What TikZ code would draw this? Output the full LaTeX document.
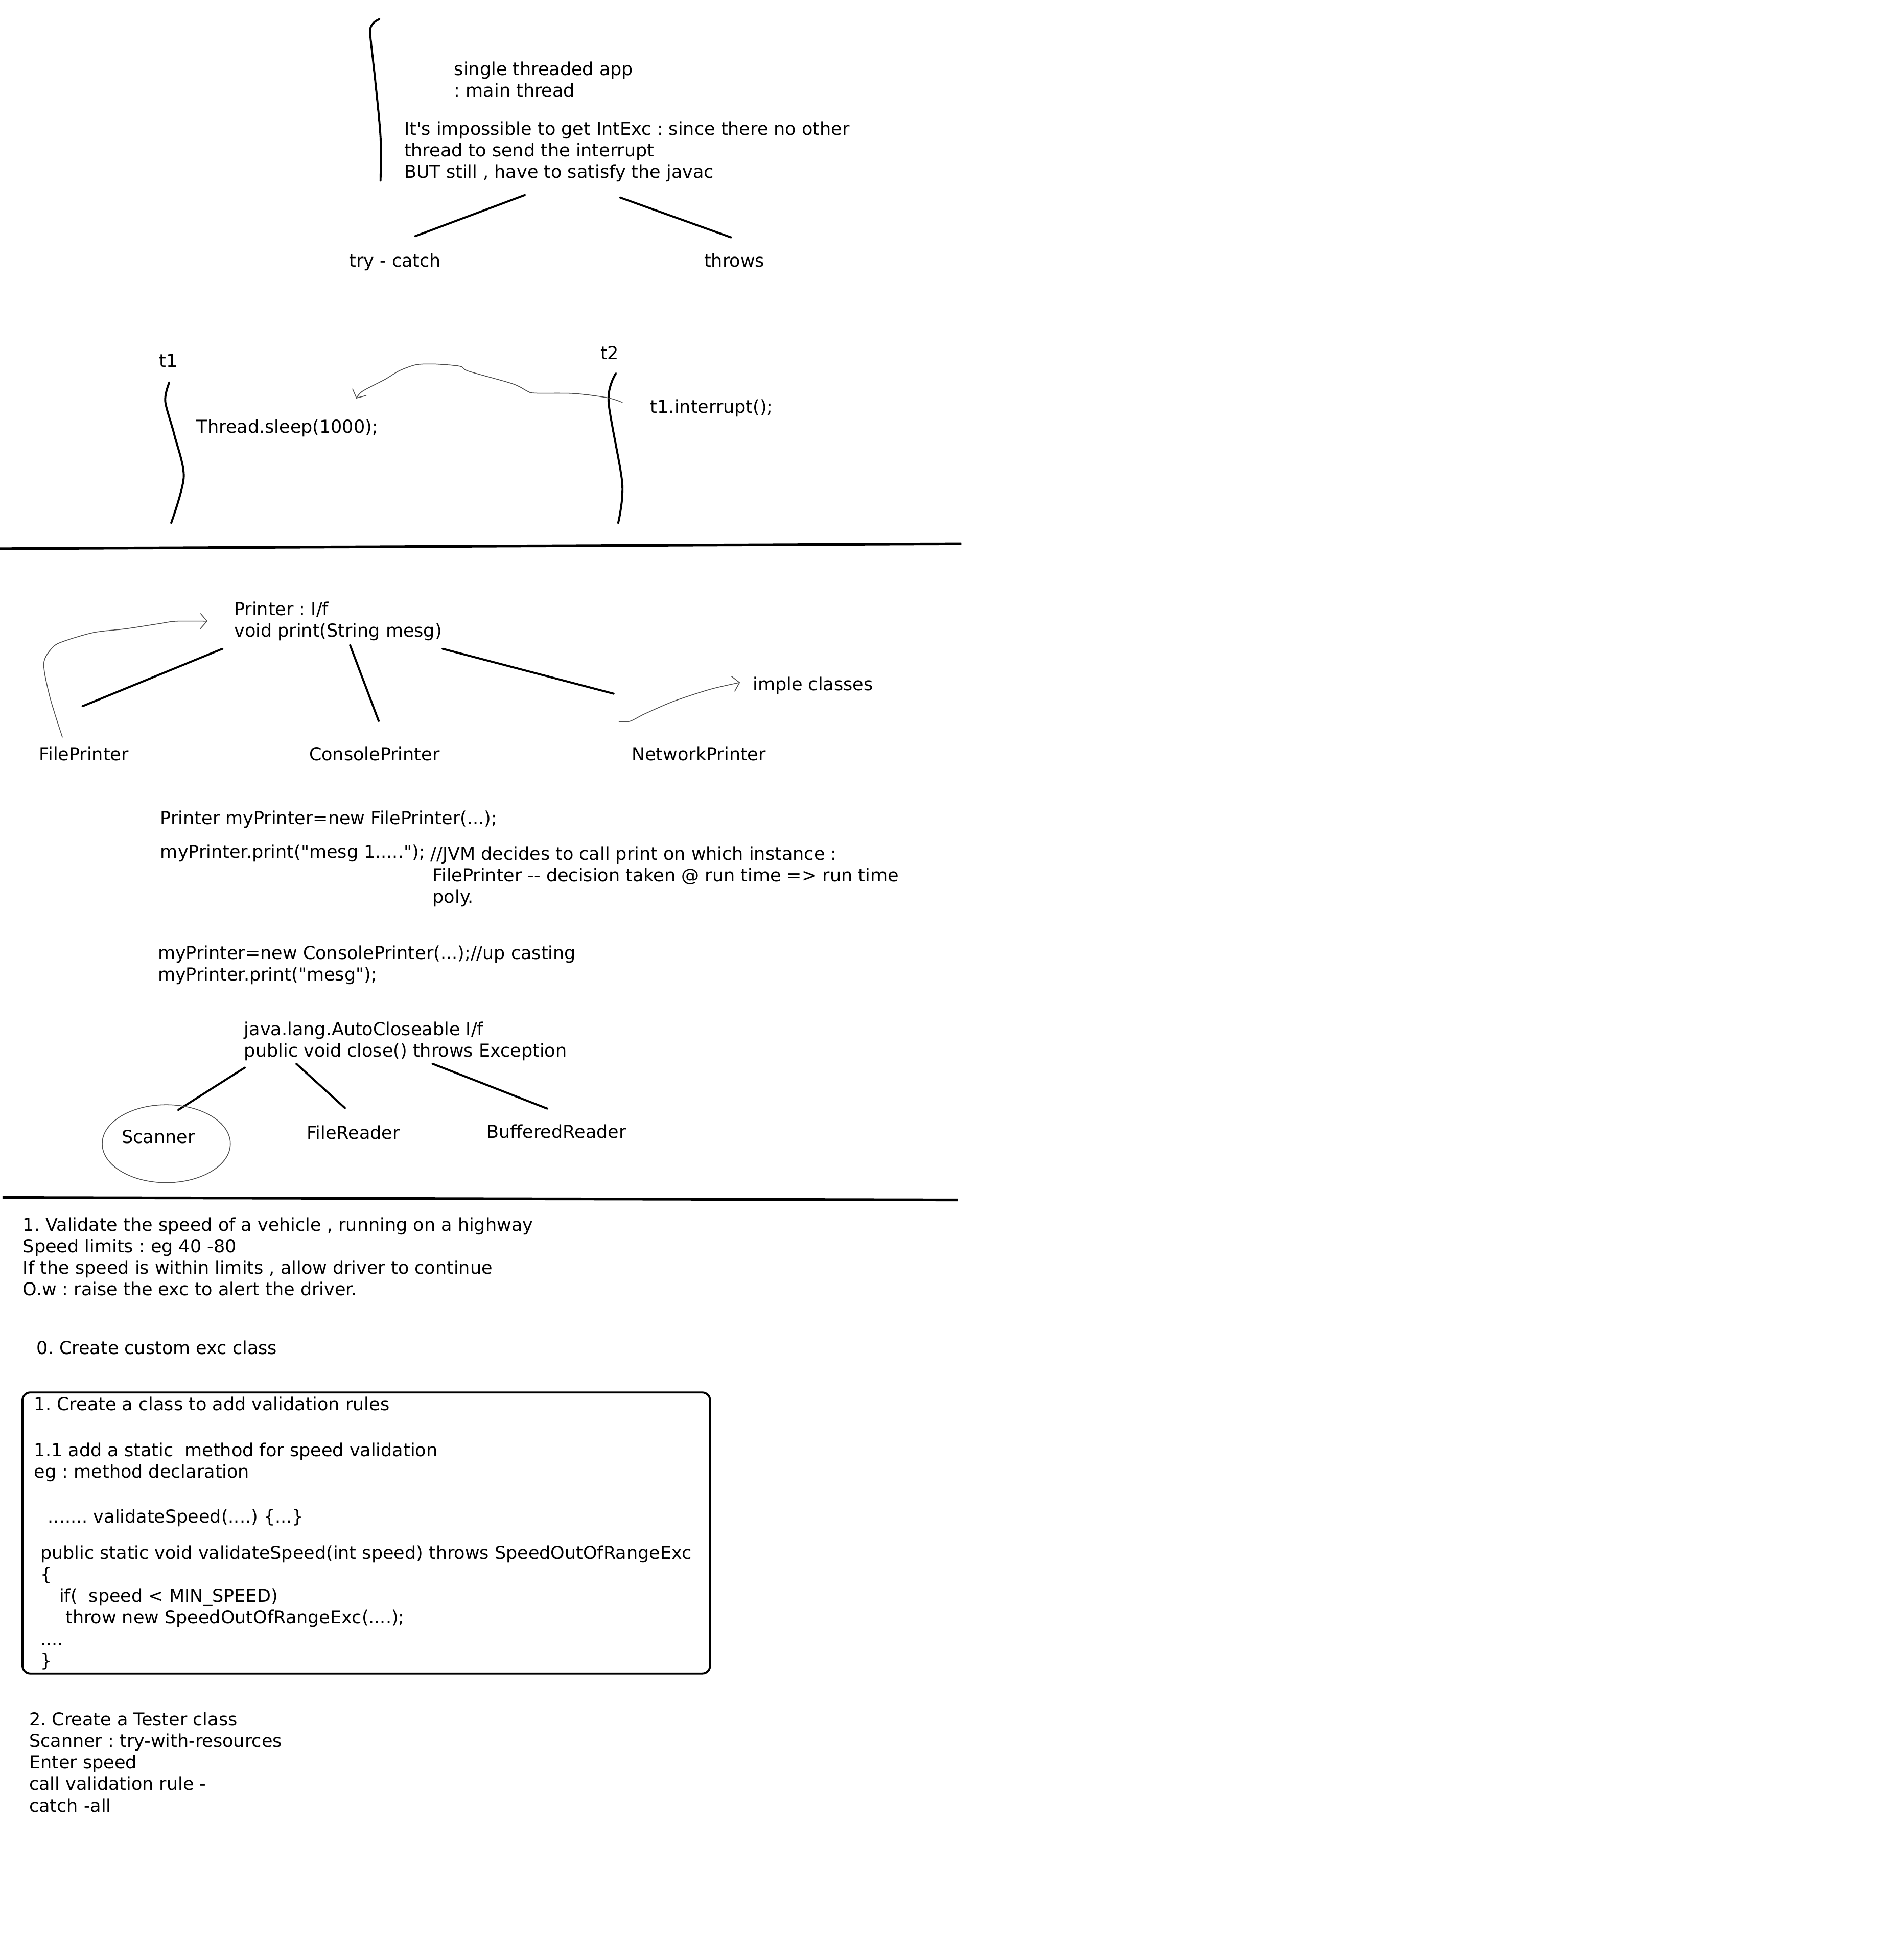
\documentclass[tikz,border=0pt]{standalone}
\usepackage{fontspec}
\setmainfont{DejaVu Sans}[Ligatures=TeXOff]
\usetikzlibrary{arrows.meta}
\frenchspacing

\begin{document}
\begin{tikzpicture}[
    x=0.0199cm, y=-0.0199cm,
    note/.style={anchor=base west, align=left, inner sep=0pt, font=\fontsize{8.1}{9.75}\selectfont},
    ln/.style={line width=0.9pt, line cap=round},
    pen/.style={line width=0.35pt, black!70},
    hand/.style={pen, -{Straight Barb[length=3pt, width=7pt]}},
    rule/.style={line width=1.2pt}
    ]
    \useasboundingbox (0,0) rectangle (30cm,-31.2cm);

    % single threaded app (base = last line)
    \node[note] (sgl) at (363,77.5) {single threaded app\\: main thread};
    \node[note] (imp) at (323,142.5) {It's impossible to get IntExc : since there no other\\thread to send the interrupt\\BUT still , have to satisfy the javac};
    \node[note] (tc) at (279,213.5) {try - catch};
    \node[note] (thr) at (563,213.5) {throws};
    \coordinate (tcA) at (420,156);
    \coordinate (tcB) at (332,189);
    \coordinate (thA) at (496,158);
    \coordinate (thB) at (585,190);
    \draw[ln] plot[smooth] coordinates {(303.5,15.3) (299.7,17.5) (296.5,21.9) (296.3,29.2) (300.3,65.7) (304.4,109.5) (304.4,144.5)};
    \draw[ln] (tcA) -- (tcB);
    \draw[ln] (thA) -- (thB);

    % two threads
    \node[note] (t1) at (127,293.5) {t1};
    \node[note] (t2) at (480,287.5) {t2};
    \node[note] (sleep) at (157,346.5) {Thread.sleep(1000);};
    \node[note] (intr) at (520,330.5) {t1.interrupt();};
    \draw[ln] plot[smooth] coordinates {(135.4,306) (132.2,321) (139.5,348) (147,381.5) (136.9,418.5)};
    \draw[ln] plot[smooth] coordinates {(492.7,298.7) (486.8,321) (497.8,386.7) (494.5,418.5)};
    \draw[hand] plot[smooth] coordinates {(498,322) (486,318.2) (459,314.8) (428,314.5) (422,313) (410,307) (375,297) (368,293) (350,291.3) (337,291.3) (330,292.5) (319,296.8) (308,303.5) (290,313) (285,318.8)};

    \draw[rule] (0,439) -- (769,435);

    % Printer
    \node[note] (prn) at (187,509.5) {Printer : I/f\\void print(String mesg)};
    \node[note] (fprn) at (31,608.5) {FilePrinter};
    \node[note] (cprn) at (247,608.5) {ConsolePrinter};
    \node[note] (nprn) at (505,608.5) {NetworkPrinter};
    \node[note] (impl) at (602,552.5) {imple classes};
    \coordinate (pA) at (178,519);
    \coordinate (pB) at (66,565);
    \coordinate (pC) at (280,516);
    \coordinate (pD) at (303,577);
    \coordinate (pE) at (354,519);
    \coordinate (pF) at (491,555);
    \draw[ln] (pA) -- (pB);
    \draw[ln] (pC) -- (pD);
    \draw[ln] (pE) -- (pF);
    \draw[hand] plot[smooth] coordinates {(50,590) (40,558) (35,531) (42,518) (51,513) (75,506) (101,503) (127,499) (141,497) (166,497)};
    \draw[hand] plot[smooth] coordinates {(495,577.5) (504,577) (516,571) (539,561) (568,551.5) (592,546)};

    % run time poly
    \node[note] (decl) at (128,659.5) {Printer myPrinter=new FilePrinter(...);};
    \node[note] (call) at (128,686.5) {myPrinter.print("mesg 1.....");};
    \node[note] (jvm) at (344,722.5) {//JVM decides to call print on which instance :\\\hspace*{1pt}FilePrinter -{}- decision taken @ run time => run time\\\hspace*{1pt}poly.};
    \node[note] (upc) at (126,784.5) {myPrinter=new ConsolePrinter(...);//up casting\\myPrinter.print("mesg");};

    % AutoCloseable
    \node[note] (acl) at (195,845.5) {java.lang.AutoCloseable I/f\\public void close() throws Exception};
    \node[note] (scn) at (97,914.5) {Scanner};
    \node[note] (frd) at (245,911.5) {FileReader};
    \node[note] (brd) at (389,910.5) {BufferedReader};
    \coordinate (aA) at (196,854);
    \coordinate (aB) at (142.5,888);
    \coordinate (aC) at (237,851);
    \coordinate (aD) at (276,886.5);
    \coordinate (aE) at (346,851);
    \coordinate (aF) at (438,887);
    \draw[ln] (aA) -- (aB);
    \draw[ln] (aC) -- (aD);
    \draw[ln] (aE) -- (aF);
    \draw[pen] (133,915) ellipse [x radius=1.02cm, y radius=0.62cm];

    \draw[rule] (2,958) -- (766,960);

    % speed task
    \node[note] (task) at (18,1036.5) {1. Validate the speed of a vehicle , running on a highway\\Speed limits : eg 40 -80\\If the speed is within limits , allow driver to continue\\O.w : raise the exc to alert the driver.};
    \node[note] (step0) at (29,1083.5) {0. Create custom exc class};

    \draw[ln, rounded corners=3.5pt] (18,1114) rectangle (568,1339);
    \node[note] (step1) at (27,1128.5) {1. Create a class to add validation rules};
    \node[note] (step11) at (27,1182.5) {1.1 add a static~~method for speed validation\\eg : method declaration};
    \node[note] (sig) at (38,1218.5) {....... validateSpeed(....) \{...\}};
    \node[note] (code) at (32,1333.5) {public static void validateSpeed(int speed) throws SpeedOutOfRangeExc\\\{\\\hspace*{0.3cm}if(~~speed < MIN\_SPEED)\\\hspace*{0.4cm}throw new SpeedOutOfRangeExc(....);\\....\\\}};

    \node[note] (step2) at (23,1449.5) {2. Create a Tester class\\Scanner : try-with-resources\\Enter speed\\call validation rule -\\catch -all};

  \end{tikzpicture}
\end{document}
